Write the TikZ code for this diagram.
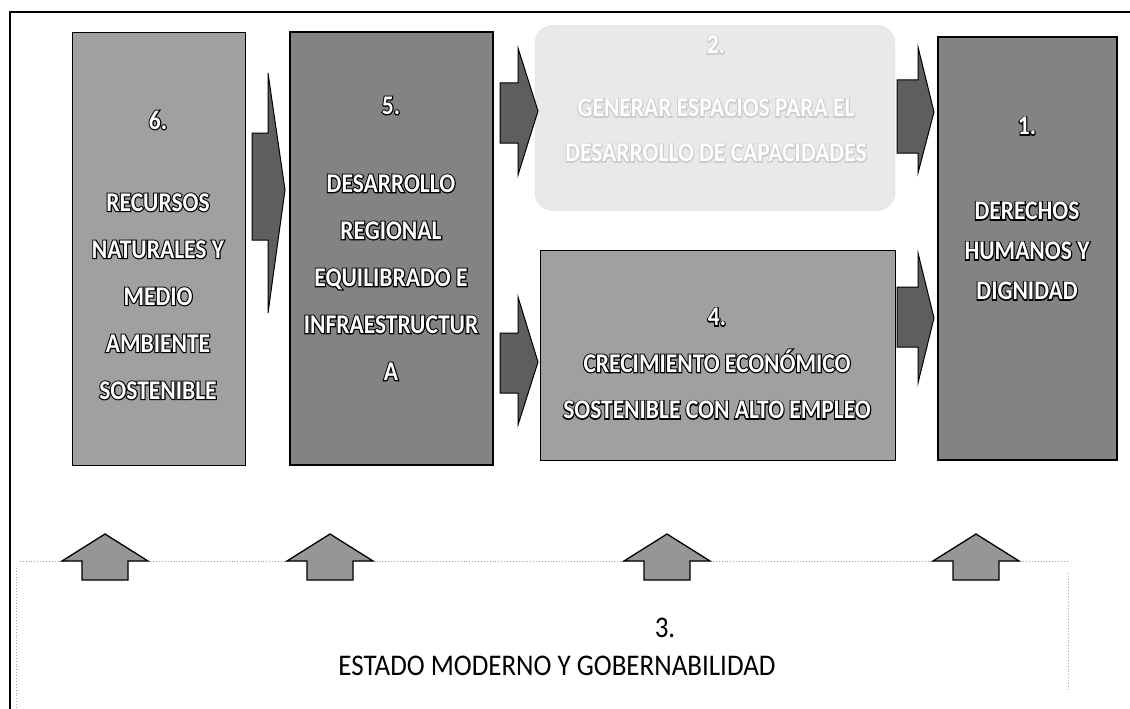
\documentclass[tikz,border=0pt]{standalone}
\usepackage{fontspec}
\setmainfont{Carlito}
\newfontface\bxw{Carlito Bold}[FakeStretch=0.87]
\newfontface\bxo{Carlito Bold}[FakeStretch=0.87,FakeBold=8]
\newfontface\plainf{Carlito}[FakeStretch=0.9]
\newcommand{\wt}[1]{{\color{black}\rlap{\bxo #1}}{\color{white}#1}}
\newcommand{\lt}[1]{{\color{gray!40}\rlap{\bxo #1}}{\color{white}#1}}
\definecolor{boxlight}{HTML}{A0A0A0}
\definecolor{boxdark}{HTML}{838383}
\definecolor{boxpale}{HTML}{E9E9E9}
\definecolor{arrdark}{HTML}{5E5E5E}
\definecolor{arrup}{HTML}{969696}
\tikzset{
  boxA/.style={draw=black, line width=1pt, fill=boxlight, inner sep=0pt},
  boxB/.style={draw=black, line width=1.8pt, fill=boxdark, inner sep=0pt},
  boxtext/.style={align=center, inner sep=0pt, font=\fontsize{27}{47}\selectfont\bxw},
  rarr/.style={fill=arrdark, draw=black, line width=1pt, line join=miter},
  uarr/.style={fill=arrup, draw=black, line width=1.3pt, line join=miter},
  dotline/.style={draw=gray!70, dotted, line width=0.9pt},
  frameline/.style={draw=black, line width=1.6pt},
  plain/.style={inner sep=0pt, font=\fontsize{30}{32}\selectfont\plainf}
}
\begin{document}
\begin{tikzpicture}[x=1pt,y=-1pt]
\useasboundingbox (0,0) rectangle (1130,709);
\fill[white] (0,0) rectangle (1130,709);
% frame
\coordinate (fTL) at (10,12);
\coordinate (fBL) at (10,709);
\coordinate (fTR) at (1130,12);
\draw[frameline] (fBL) -- (fTL) -- (fTR);

% box 3 (bottom region)
\node[inner sep=0pt, minimum width=1051pt, minimum height=150pt] (b3) at (542.5,637) {};
\draw[dotline] ([xshift=3pt]b3.north west) -- (b3.north east);
\draw[dotline] ([yshift=-6pt]b3.north west) -- (b3.south west);
\draw[dotline] ([yshift=-11pt]b3.north east) -- ([yshift=23pt]b3.south east);
\node[plain] (t3a) at (665,628) {3.};
\node[plain] (t3b) at (557,666) {ESTADO MODERNO Y GOBERNABILIDAD};

% boxes
\node[boxA, minimum width=173pt, minimum height=432pt] (b6) at (158.5,249) {};
\node[boxB, minimum width=203pt, minimum height=433pt] (b5) at (391.5,248.5) {};
\node[fill=boxpale, draw=gray!25, rounded corners=18pt, minimum width=360pt, minimum height=185pt, inner sep=0pt] (b2) at (715,118) {};
\node[boxA, minimum width=355pt, minimum height=210pt] (b4) at (717.5,355) {};
\node[boxB, minimum width=179pt, minimum height=423pt] (b1) at (1027.5,248.5) {};

% texts
\node[boxtext] (t6) at (158,255) {\wt{6.}\\[35pt]\wt{RECURSOS}\\\wt{NATURALES Y}\\\wt{MEDIO}\\\wt{AMBIENTE}\\\wt{SOSTENIBLE}};
\node[boxtext] (t5) at (391,238.5) {\wt{5.}\\[31pt]\wt{DESARROLLO}\\\wt{REGIONAL}\\\wt{EQUILIBRADO E}\\\wt{INFRAESTRUCTUR}\\\wt{A}};
\node[boxtext, font=\fontsize{27}{45}\selectfont\bxw] (t2) at (716,99) {\lt{2.}\\[18pt]\lt{GENERAR ESPACIOS PARA EL}\\\lt{DESARROLLO DE CAPACIDADES}};
\node[boxtext, font=\fontsize{27}{46.5}\selectfont\bxw] (t4) at (717,363.5) {\wt{4.}\\\wt{CRECIMIENTO ECONÓMICO}\\\wt{SOSTENIBLE CON ALTO EMPLEO}};
\node[boxtext, font=\fontsize{27}{40}\selectfont\bxw] (t1) at (1027,208.5) {\wt{1.}\\[45pt]\wt{DERECHOS}\\\wt{HUMANOS Y}\\\wt{DIGNIDAD}};

% right arrows
\draw[rarr] (252,133) -- (268,133) -- (268,73) -- (285,190) -- (268,313) -- (268,240) -- (252,240) -- cycle;
\draw[rarr] (500,83) -- (518,83) -- (518,48) -- (538,111) -- (518,175) -- (518,143) -- (500,143) -- cycle;
\draw[rarr] (500,333) -- (518,333) -- (518,297) -- (538,362) -- (518,425) -- (518,393) -- (500,393) -- cycle;
\draw[rarr] (897,80) -- (918,80) -- (918,47) -- (934,112) -- (918,173) -- (918,153) -- (897,153) -- cycle;
\draw[rarr] (897,287) -- (918,287) -- (918,253) -- (934,318) -- (918,383) -- (918,347) -- (897,347) -- cycle;

% up arrows
\foreach \cx in {105,330,667,976}{
  \draw[uarr] (\cx-23,580) -- (\cx-23,561) -- (\cx-43,561) -- (\cx,534) -- (\cx+43,561) -- (\cx+23,561) -- (\cx+23,580) -- cycle;
}
\end{tikzpicture}
\end{document}
